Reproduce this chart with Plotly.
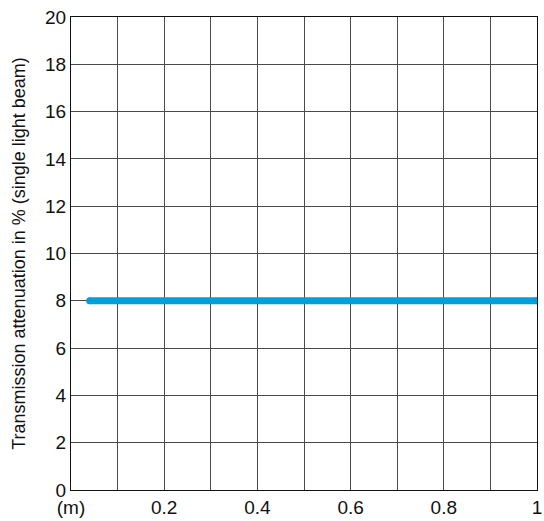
import plotly.graph_objects as go

# distance (m) vs. attenuation (%)
distance = [0.04, 1.0]
attenuation = [8, 8]

x_ticks = [0, 0.1, 0.2, 0.3, 0.4, 0.5, 0.6, 0.7, 0.8, 0.9, 1.0]
x_labels = ["(m)", "", "0.2", "", "0.4", "", "0.6", "", "0.8", "", "1"]
y_ticks = [0, 2, 4, 6, 8, 10, 12, 14, 16, 18, 20]

blue = "#009fda"
grid = "#4a4a4a"

fig = go.Figure()
fig.add_trace(go.Scatter(x=distance, y=attenuation, mode="lines+markers",
                         line=dict(color=blue, width=7),
                         marker=dict(color=blue, size=7),
                         hoverinfo="none", showlegend=False))

fig.update_layout(
    width=544, height=521,
    plot_bgcolor="white", paper_bgcolor="white",
    margin=dict(l=71, r=2, t=17, b=31),
    font=dict(family="Liberation Sans, Arial, sans-serif", color="#111"),
    xaxis=dict(range=[0, 1], tickvals=x_ticks, ticktext=x_labels,
               showgrid=True, gridcolor=grid, gridwidth=1,
               showline=True, linecolor="#111", linewidth=1, mirror=True,
               zeroline=False, ticks="", tickfont=dict(size=19),
               ticklabeloverflow="allow"),
    yaxis=dict(range=[0, 20], tickvals=y_ticks,
               showgrid=True, gridcolor=grid, gridwidth=1,
               showline=True, linecolor="#111", linewidth=1, mirror=True,
               zeroline=False, ticks="", tickfont=dict(size=19),
               title=dict(text="Transmission attenuation in % (single light beam)",
                          font=dict(size=18), standoff=14)),
)

# page body has a default margin; drop it so the figure sits at the corner
fig.write_html("out.html", config={"displayModeBar": False},
               post_script="document.body.style.margin='0';")
